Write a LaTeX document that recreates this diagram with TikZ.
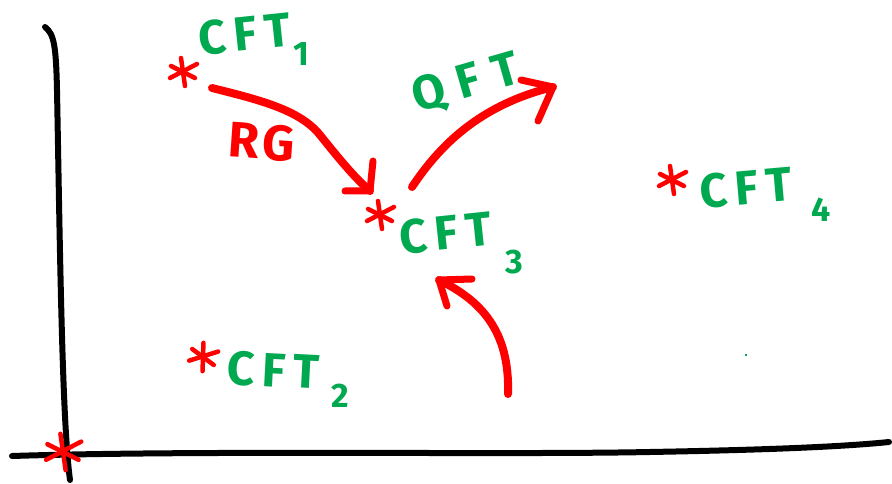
\documentclass[tikz,border=0pt]{standalone}
\usepackage{fontspec}
\setmainfont{Fira Sans}
\definecolor{inkgreen}{RGB}{0,168,80}
\definecolor{inkred}{RGB}{255,0,0}
\tikzset{
  axis/.style={line width=6pt, line cap=round, black},
  flow/.style={line width=8pt, line cap=round, line join=round, inkred},
  barb/.style={line width=7pt, line cap=round, line join=round, inkred},
  lab/.style={inkgreen, font=\fontsize{48}{48}\selectfont\bfseries\addfontfeature{LetterSpace=16}, inner sep=0pt},
  widelab/.style={lab, font=\fontsize{48}{48}\selectfont\bfseries\addfontfeature{LetterSpace=28}},
  sublab/.style={inkgreen, font=\fontsize{34}{34}\selectfont\bfseries, inner sep=0pt},
  redlab/.style={inkred, font=\fontsize{50}{50}\selectfont\bfseries\addfontfeature{LetterSpace=8}, inner sep=0pt},
  spoke/.style={line width=4.5pt, line cap=round, inkred},
  pics/asterisk/.style={code={
    \draw[spoke] (-2,-14) -- (2,14);
    \draw[spoke] (-13,6) -- (14,-8);
    \draw[spoke] (-12,-6) -- (12,6);
  }}
}
\begin{document}
\begin{tikzpicture}[x=1pt,y=-1pt]
\useasboundingbox (0,0) rectangle (892,484);

% axes
\coordinate (ytop) at (45,27);
\coordinate (ybot) at (70,480);
\coordinate (xleft) at (12,456);
\coordinate (xright) at (889,442);
\draw[axis] (ytop) .. controls (54,34) and (56,45) .. (57,90)
  .. controls (60,250) and (62,420) .. (ybot);
\draw[axis] (xleft) .. controls (200,450) and (500,455) .. (650,452)
  .. controls (760,450) and (840,447) .. (xright);

% fixed points
\coordinate (p0) at (63,452);
\coordinate (p1) at (183,72);
\coordinate (p2) at (203,357);
\coordinate (p3) at (380,215);
\coordinate (p4) at (672,180);
\pic[scale=1.3] at (p0) {asterisk};
\pic at (p1) {asterisk};
\pic[rotate=-10] at (p2) {asterisk};
\pic at (p3) {asterisk};
\pic at (p4) {asterisk};

% labels of the fixed points (spacing trailing after the last letter shifts centres right)
\node[lab, rotate=6] (l1) at (245,34) {CFT};
\node[sublab] (s1) at (301,54) {1};
\node[lab, rotate=-3] (l2) at (273,370) {CFT};
\node[sublab] (s2) at (340,396) {2};
\node[lab, rotate=6] (l3) at (446,233) {CFT};
\node[sublab] (s3) at (514,262) {3};
\node[lab, rotate=5] (l4) at (746,188) {CFT};
\node[sublab] (s4) at (821,210) {4};

% RG flow from CFT1 into CFT3
\coordinate (rgs) at (212,88);
\coordinate (rge) at (370,191);
\draw[flow] (rgs) .. controls (260,100) and (300,110) .. (320,135)
  .. controls (340,160) and (355,178) .. (rge);
\draw[barb] (373,161) -- (rge) -- (345,191);
\node[redlab, rotate=-4] (rg) at (262,142) {RG};

% QFT flow leaving CFT3
\coordinate (qs) at (412,187);
\coordinate (qe) at (553,87);
\draw[flow] (qs) .. controls (440,145) and (480,105) .. (qe);
\draw[barb] (521,80) -- (qe) -- (538,121);
\node[widelab, rotate=16] (qft) at (466,84) {QFT};

% flow arriving at CFT3 from below
\coordinate (us) at (508,394);
\coordinate (ue) at (439,280);
\draw[flow] (us) .. controls (510,330) and (480,300) .. (ue);
\draw[barb] (472,279) -- (ue) -- (447,306);

% stray mark
\fill[inkgreen] (745,354) rectangle (747,356);
\end{tikzpicture}
\end{document}
